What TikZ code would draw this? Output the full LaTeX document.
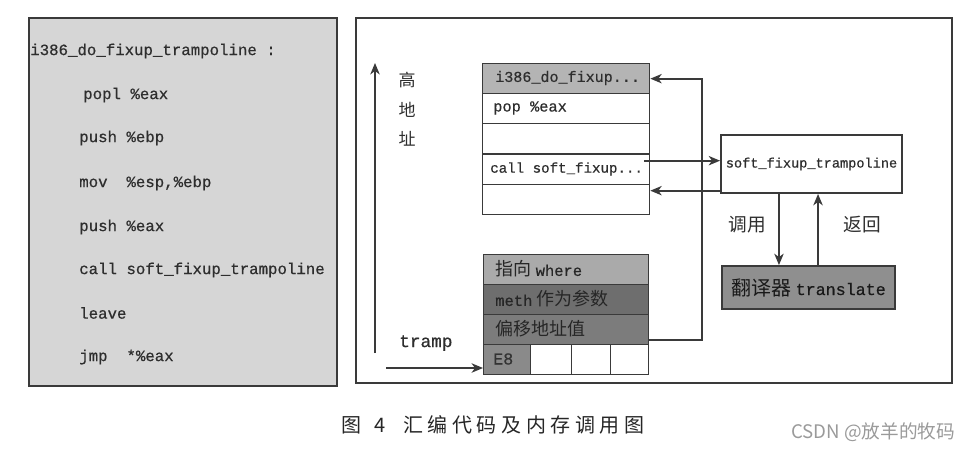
\documentclass[tikz,border=0pt]{standalone}
\usepackage{fontspec}
\setmonofont[FakeBold=0.6]{Liberation Mono}
\newfontfamily\cjk{Noto Sans CJK SC}
\newfontfamily\capfont[LetterSpace=23]{Noto Sans CJK SC}
\usetikzlibrary{arrows.meta,calc}
\definecolor{lc}{HTML}{3A3A3A}
\definecolor{tc}{HTML}{2E2E2E}
\definecolor{panelgray}{HTML}{D6D6D6}
\definecolor{cellA}{HTML}{B4B4B4}
\definecolor{cellB}{HTML}{AAAAAA}
\definecolor{cellC}{HTML}{6E6E6E}
\definecolor{cellD}{HTML}{7C7C7C}
\definecolor{cellE}{HTML}{8A8A8A}
\definecolor{transgray}{HTML}{8F8F8F}
\definecolor{wm}{HTML}{9A9A9A}
\tikzset{
  panel/.style={draw=lc, line width=1.4pt, anchor=north west, inner sep=0pt},
  urow/.style={draw=lc, line width=1pt, fill=white, anchor=north west, inner sep=0pt,
    minimum width=125.25pt, minimum height=22.5pt},
  lrow/.style={draw=lc, line width=1pt, anchor=north west, inner sep=0pt,
    minimum width=123.75pt, minimum height=22.5pt},
  cell/.style={draw=lc, line width=1pt, fill=white, anchor=north west, inner sep=0pt,
    minimum height=22.5pt},
  codetxt/.style={anchor=west, inner sep=0pt, text=tc, font=\ttfamily\fontsize{11.8}{14}\selectfont},
  celltxt/.style={anchor=west, inner sep=0pt, text=tc},
  arr/.style={draw=lc, line width=1.4pt, -{Stealth[length=8.5pt,width=7pt,inset=2.5pt]}},
}
\begin{document}
\begin{tikzpicture}[x=0.75pt,y=-0.75pt]
\useasboundingbox (0,0) rectangle (975,451);

% ---------- left code panel ----------
\node (code) [panel, fill=panelgray, minimum width=231pt, minimum height=276pt] at (28,17) {};
\node (c1) [codetxt] at (30,51) {i386\_do\_fixup\_trampoline :};
\node (c2) [codetxt] at (83,95) {popl \%eax};
\node (c3) [codetxt] at (79,138) {push \%ebp};
\node (c4) [codetxt] at (79,183) {mov\ \ \%esp,\%ebp};
\node (c5) [codetxt] at (79,227) {push \%eax};
\node (c6) [codetxt] at (79,270) {call soft\_fixup\_trampoline};
\node (c7) [codetxt] at (79,313) {leave};
\node (c8) [codetxt] at (79,357) {jmp\ \ *\%eax};

% ---------- right panel ----------
\node (mem) [panel, fill=white, minimum width=447pt, minimum height=273.75pt] at (355,17) {};

% address arrow
\coordinate (vb) at (375,353);
\coordinate (vt) at (375,63);
\draw[arr] (vb) -- (vt);
\node (h1) [inner sep=0pt, text=tc, font=\cjk\fontsize{12.75}{14}\selectfont] at (407,80) {高};
\node (h2) [inner sep=0pt, text=tc, font=\cjk\fontsize{12.75}{14}\selectfont] at (407,110) {地};
\node (h3) [inner sep=0pt, text=tc, font=\cjk\fontsize{12.75}{14}\selectfont] at (407,139) {址};

% upper stack
\node (u1) [urow, fill=cellA] at (482,63) {};
\node (u2) [urow] at (482,93) {};
\node (u3) [urow] at (482,123) {};
\node (u4) [urow] at (482,154) {};
\node (u5) [urow] at (482,184) {};
\node (t1) [celltxt, font=\ttfamily\fontsize{11.3}{13}\selectfont] at (495,78) {i386\_do\_fixup...};
\node (t2) [celltxt, font=\ttfamily\fontsize{11.5}{13}\selectfont] at (493,108) {pop \%eax};
\node (t4) [celltxt, font=\ttfamily\fontsize{10.6}{13}\selectfont] at (490,169) {call soft\_fixup...};

% lower stack
\node (l1) [lrow, fill=cellB] at (483,254) {};
\node (l2) [lrow, fill=cellC] at (483,284) {};
\node (l3) [lrow, fill=cellD] at (483,314) {};
\node (e8) [cell, fill=cellE, minimum width=35.25pt] at (483,344) {};
\node (e9) [cell, minimum width=30.75pt] at (530,344) {};
\node (e10) [cell, minimum width=29.25pt] at (571,344) {};
\node (e11) [cell, minimum width=28.5pt] at (610,344) {};
\node (s1) [celltxt, text=black!85] at (495,269) {{\cjk\fontsize{13.5}{15}\selectfont 指向} {\ttfamily\fontsize{11.6}{13}\selectfont where}};
\node (s2) [celltxt, text=black!85] at (495,299) {{\ttfamily\fontsize{11.6}{13}\selectfont meth} {\cjk\fontsize{13.5}{15}\selectfont 作为参数}};
\node (s3) [celltxt, text=black!85] at (495,329) {\cjk\fontsize{13.5}{15}\selectfont 偏移地址值};
\node (s4) [celltxt, text=black!80, font=\ttfamily\fontsize{12.5}{14}\selectfont] at (493,359) {E8};

% tramp
\node (tr) [anchor=west, inner sep=0pt, text=tc, font=\ttfamily\fontsize{13.3}{15}\selectfont] at (399,343) {tramp};
\coordinate (ts) at (386,368);
\draw[arr] (ts) -- (ts -| e8.west);

% soft_fixup_trampoline and translate
\node (soft) [draw=lc, line width=1.4pt, fill=white, minimum width=135.75pt, minimum height=43.5pt,
  inner sep=0pt, text=tc, font=\ttfamily\fontsize{10.2}{12}\selectfont] at (811.5,164) {soft\_fixup\_trampoline};
\node (trans) [draw=lc, line width=1.4pt, fill=transgray, minimum width=129.75pt, minimum height=32.25pt,
  inner sep=0pt, text=black!90] at (808.5,287.5) {{\cjk\fontsize{15}{17}\selectfont 翻译器} {\ttfamily\fontsize{12.5}{14}\selectfont translate}};

% return path from tramp offset to i386 entry
\coordinate (jx) at (702,0);
\coordinate (r0) at ([yshift=-7.5pt]l3.east);
\draw[arr] (r0) -- (r0 -| jx) -- (jx |- u1.east) -- (u1.east);

% call / return between stack and soft_fixup
\coordinate (k0) at ([xshift=-4.5pt,yshift=6.75pt]u4.east);
\draw[arr] (k0) -- (k0 -| soft.west);
\coordinate (k1) at ([yshift=6.75pt]u5.east);
\draw[arr] (k1 -| soft.west) -- (k1);

% soft <-> translate
\coordinate (d0) at ([xshift=-24.4pt]soft.south);
\coordinate (d1) at ([xshift=4.9pt]soft.south);
\draw[arr] (d0) -- (d0 |- trans.north);
\draw[arr] (d1 |- trans.north) -- (d1);
\node (call) [inner sep=0pt, text=tc, font=\cjk\fontsize{14}{16}\selectfont] at (747,225) {调用};
\node (ret) [inner sep=0pt, text=tc, font=\cjk\fontsize{14}{16}\selectfont] at (862,225) {返回};

% caption and watermark
\node (cap) [anchor=west, inner sep=0pt, text=black!85, font=\capfont\fontsize{15}{17}\selectfont] at (341,425) {图\hspace{10pt}4\hspace{13pt}汇编代码及内存调用图};
\node (wmk) [anchor=west, inner sep=0pt, text=wm, font=\cjk\fontsize{14}{16}\selectfont] at (791,432) {CSDN @放羊的牧码};
\end{tikzpicture}
\end{document}
